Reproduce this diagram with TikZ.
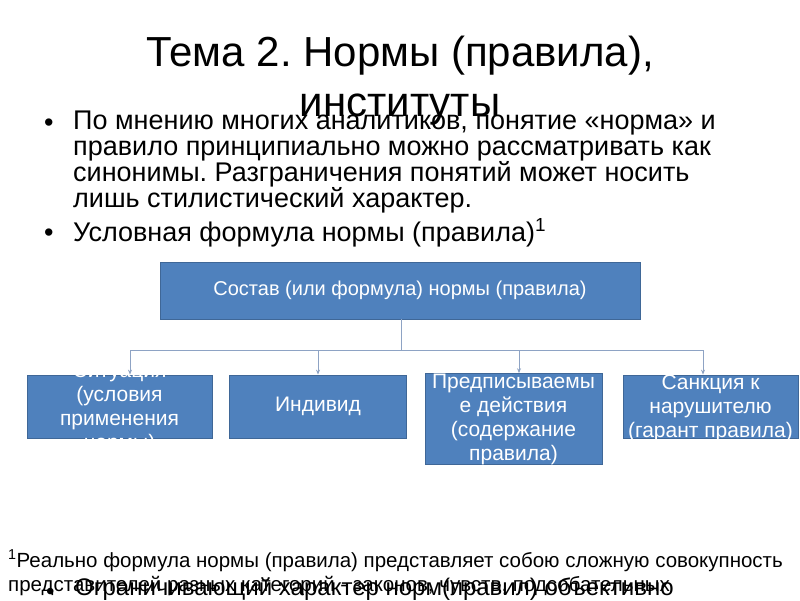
\documentclass[tikz,border=0pt]{standalone}
\usepackage{fontspec}
\setmainfont{Liberation Sans}
\usepackage{tikz}
\usetikzlibrary{arrows.meta,positioning,calc}
\usepackage{xcolor}
\definecolor{boxblue}{HTML}{4F81BD}
\definecolor{boxline}{HTML}{3F6797}
\definecolor{linkgray}{HTML}{8EA3C4}
\frenchspacing

\begin{document}
\begin{tikzpicture}[
x=1pt,y=-1pt,
part/.style={rectangle,draw=boxline,line width=0.8pt,fill=boxblue,text=white,align=center,inner sep=0pt,
  font=\fontsize{21}{24}\selectfont},
parttext/.style={text=white,align=center,inner sep=0pt,font=\fontsize{21}{24}\selectfont},
txt/.style={inner sep=0pt,align=left},
link/.style={draw=linkgray,line width=0.8pt},
arr/.style={link,-{Stealth[length=5pt,width=4pt]}}
]
\useasboundingbox[fill=white] (0,0) rectangle (800,600);

% title and text
\node[inner sep=0pt,anchor=base,font=\fontsize{42}{42}\selectfont] (title) at (400,66) {Тема 2. Нормы (правила),};
\node[inner sep=0pt,anchor=base,font=\fontsize{42}{42}\selectfont] (title2) at (400,116) {институты};
\node[txt,anchor=base west,font=\fontsize{27}{26}\selectfont] (dot1) at (44,131) {•};
\node[txt,anchor=north west,font=\fontsize{27}{26}\selectfont] (pt1) at (73,111) {По мнению многих аналитиков, понятие «норма» и\\правило принципиально можно рассматривать как\\синонимы. Разграничения понятий может носить\\лишь стилистический характер.};
\node[txt,anchor=base west,font=\fontsize{27}{26}\selectfont] (dot2) at (44,241) {•};
\node[txt,anchor=base west,font=\fontsize{27}{26}\selectfont] (pt2) at (73,241) {Условная формула нормы (правила)\textsuperscript{1}};

% scheme
\node[part,minimum width=480pt,minimum height=57pt,font=\fontsize{20}{24}\selectfont] (top) at (400,290.5) {Состав (или формула) нормы (правила)};
\node[part,minimum width=185pt,minimum height=63pt] (sit) at (119.5,406.5) {};
\node[parttext] (sittext) at ($(sit.center)+(0,2)$) {Ситуация\\(условия\\применения\\нормы)};
\node[part,minimum width=177pt,minimum height=63pt] (ind) at (318,406.5) {Индивид};
\node[part,minimum width=177pt,minimum height=88pt] (act) at (513.5,419) {Предписываемы\\е действия\\(содержание\\правила)};
\node[part,minimum width=175pt,minimum height=63pt] (sank) at (710.5,406.5) {};
\node[parttext] (sanktext) at ($(sank.center)+(0,2)$) {Санкция к\\нарушителю\\(гарант правила)};

\coordinate (hub) at (401,350);
\coordinate (j1) at (130,350);
\coordinate (j2) at (318,350);
\coordinate (j3) at (519,350);
\coordinate (j4) at (703,350);
\draw[link] (top.south -| hub) -- (hub);
\draw[link] (j1) -- (j4);
\draw[arr] (j1) -- (j1 |- sit.north);
\draw[arr] (j2) -- (j2 |- ind.north);
\draw[arr] (j3) -- (j3 |- act.north);
\draw[arr] (j4) -- (j4 |- sank.north);

% footnote
\node[txt,anchor=base west,font=\fontsize{20.5}{20}\selectfont] (note1) at (8,567) {\textsuperscript{1}Реально формула нормы (правила) представляет собою сложную совокупность};
\node[txt,anchor=base west,font=\fontsize{20.5}{20}\selectfont] (note2) at (8,591) {представителей разных категорий - законов, чувств, подсобательных};
\node[txt,anchor=base west,font=\fontsize{24}{24}\selectfont] (dot3) at (46,599) {•};
\node[txt,anchor=base west,font=\fontsize{24}{24}\selectfont] (pt3) at (75,595) {Ограничивающий характер норм(правил) объективно};
\end{tikzpicture}
\end{document}
